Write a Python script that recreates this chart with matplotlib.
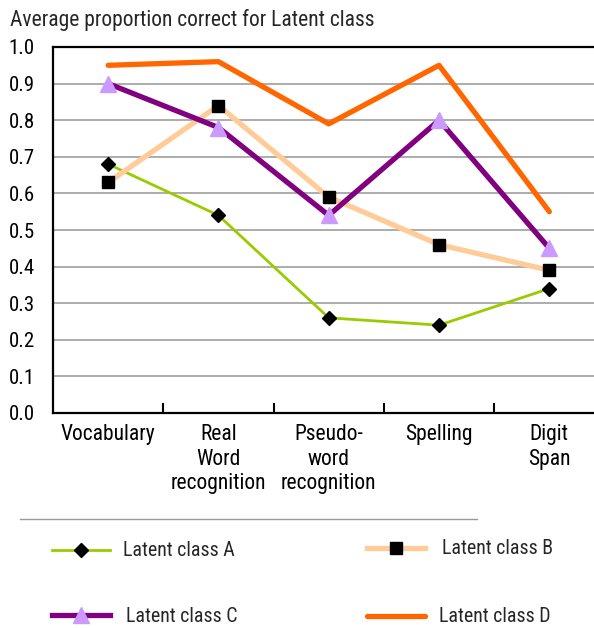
import matplotlib
matplotlib.use('Agg')
import matplotlib.pyplot as plt
from matplotlib import font_manager
from matplotlib.lines import Line2D

# 데이터
categories = ['Vocabulary', 'Real\nWord\nrecognition', 'Pseudo-\nword\nrecognition', 'Spelling', 'Digit\nSpan']
class_a = [0.68, 0.54, 0.26, 0.24, 0.34]
class_b = [0.63, 0.84, 0.59, 0.46, 0.39]
class_c = [0.90, 0.78, 0.54, 0.80, 0.45]
class_d = [0.95, 0.96, 0.79, 0.95, 0.55]
y_ticks = [0.0, 0.1, 0.2, 0.3, 0.4, 0.5, 0.6, 0.7, 0.8, 0.9, 1.0]

# 좁은 글꼴이 있으면 사용
names = {f.name for f in font_manager.fontManager.ttflist}
font = 'Liberation Sans'
for cand in ['Liberation Sans Narrow', 'Roboto Condensed', 'Open Sans Condensed', 'Noto Sans Condensed']:
    if cand in names:
        font = cand
        break
plt.rcParams['font.family'] = [font, 'DejaVu Sans']
plt.rcParams['text.color'] = '#262626'

W, H = 594, 628
fig = plt.figure(figsize=(W / 100, H / 100), dpi=100)
ax = fig.add_axes([53 / W, 1 - 413 / H, (W - 53) / W, 366 / H])

x = list(range(len(categories)))
la, = ax.plot(x, class_a, color='#99cc00', lw=2, marker='D', ms=7,
              mfc='black', mec='black', label='Latent class A', zorder=3)
lb, = ax.plot(x, class_b, color='#ffcc99', lw=3.8, marker='s', ms=9,
              mfc='black', mec='black', label='Latent class B', zorder=4)
lc, = ax.plot(x, class_c, color='#800080', lw=3.8, marker='^', ms=12,
              mfc='#cc99ff', mec='#cc99ff', label='Latent class C', zorder=5)
ld, = ax.plot(x, class_d, color='#ff6600', lw=3.8, solid_capstyle='round',
              label='Latent class D', zorder=6)

ax.set_xlim(-0.5, -0.5 + (W - 53) / 110.3)
ax.set_ylim(0, 1.0)
ax.set_yticks(y_ticks)
ax.set_yticklabels([f'{v:.1f}' for v in y_ticks], fontsize=15)
ax.set_xticks(x)
ax.set_xticklabels(categories, fontsize=15.5, linespacing=1.22)
ax.set_xticks([i + 0.5 for i in range(len(categories) - 1)], minor=True)
ax.tick_params(axis='x', which='major', length=0, pad=8)
ax.tick_params(axis='x', which='minor', direction='in', length=7, width=1.5, color='black')
ax.tick_params(axis='y', length=0, pad=13)

ax.yaxis.grid(True, color='#a6a6a6', lw=1.3)
ax.set_axisbelow(True)
for s in ['left', 'bottom', 'top']:
    ax.spines[s].set_linewidth(1.6)
    ax.spines[s].set_color('black')
ax.spines['right'].set_visible(False)

fig.text(10 / W, 1 - 20 / H, 'Average proportion correct for Latent class',
         fontsize=15.5, va='center', ha='left')

# 범례 위 구분선
fig.add_artist(Line2D([20 / W, 477 / W], [1 - 519 / H, 1 - 519 / H],
                      color='#999999', lw=1))

# 범례 항목을 각각 배치
fs = 14.3
px = fs * 100 / 72
for line, lx, ly, gap in [(la, 52, 551, 13), (lb, 367, 549, 17),
                          (lc, 52, 616, 16), (ld, 367, 617, 14)]:
    fig.legend([line], [line.get_label()], loc='center left',
               bbox_to_anchor=(lx / W, 1 - ly / H), frameon=False,
               borderpad=0, borderaxespad=0, fontsize=fs,
               handlelength=58 / px, handletextpad=gap / px)

fig.savefig('out.png', dpi=100)
